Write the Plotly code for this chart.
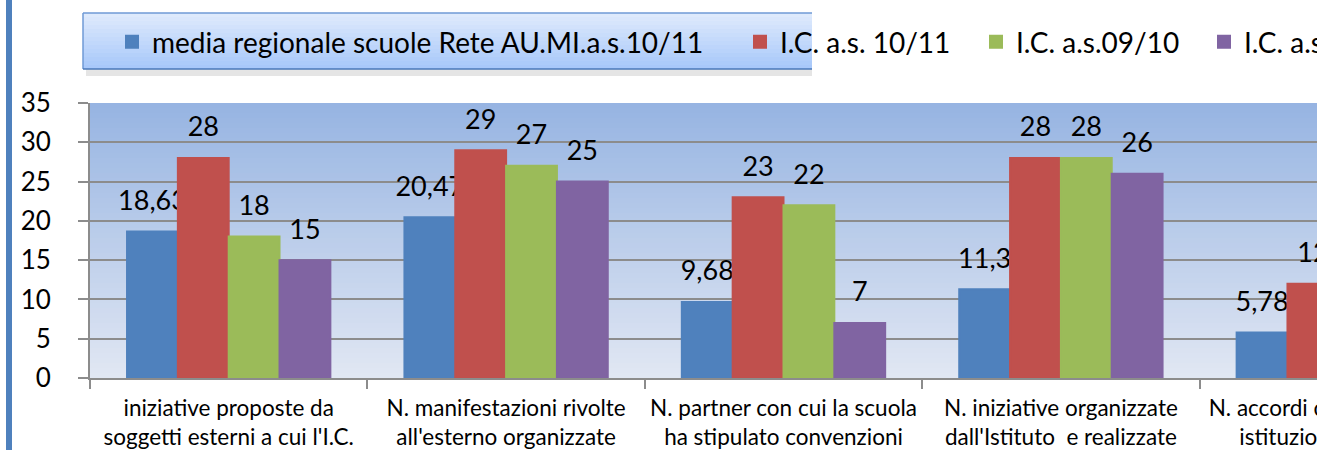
import plotly.graph_objects as go

# ---------------- data ----------------
categories = [
    "iniziative proposte da<br>soggetti esterni a cui l'I.C.",
    "N. manifestazioni rivolte<br>all'esterno organizzate",
    "N. partner con cui la scuola<br>ha stipulato convenzioni",
    "N. iniziative organizzate<br>dall'Istituto  e realizzate",
    "N. accordi con altre scuole<br>istituzioni pubbliche",
]
series_names = [
    "media regionale scuole Rete AU.MI.a.s.10/11",
    "I.C. a.s. 10/11",
    "I.C. a.s.09/10",
    "I.C. a.s.08/09",
]
media_regionale = [18.63, 20.47, 9.68, 11.3, 5.78]
ic_10_11 = [28, 29, 23, 28, 12]
ic_09_10 = [18, 27, 22, 28, None]
ic_08_09 = [15, 25, 7, 26, None]
series_values = [media_regionale, ic_10_11, ic_09_10, ic_08_09]
colors = ["#4F81BD", "#C0504D", "#9BBB59", "#8064A2"]

FONT = "Lato"
# plot area sits at window x 90..1477 (cut by the window at 1317), y 103..378
ML, MT = 90, 103
PLOT_W = 1387
PLOT_H = 275
MR = 13
MB = 100
W = ML + PLOT_W + MR
H = MT + PLOT_H + MB


def fmt(v):
    if v is None:
        return ""
    if float(v).is_integer():
        return str(int(v))
    return ("%g" % v).replace(".", ",")


legend_ids = ["legend", "legend2", "legend3", "legend4"]
fig = go.Figure()
for name, vals, col, lid in zip(series_names, series_values, colors, legend_ids):
    fig.add_trace(go.Bar(
        x=categories, y=vals, name=name, legend=lid,
        marker=dict(color=col, line=dict(color=col, width=2)),
        text=[fmt(v) for v in vals],
        texttemplate="<span style='font-size:27px'>%{text}</span><br> ",
        textposition="outside",
        textfont=dict(family=FONT, size=12, color="black"),
        constraintext="none",
        cliponaxis=False,
        hoverinfo="skip",
    ))

shapes = []
# plot-area vertical gradient (blue top -> light bottom)
top_c = (150, 180, 226)
bot_c = (225, 231, 243)
N = 55
for i in range(N):
    t = (i + 0.5) / N
    c = tuple(round(top_c[k] + (bot_c[k] - top_c[k]) * t) for k in range(3))
    shapes.append(dict(type="rect", xref="paper", yref="paper", layer="below",
                       x0=0, x1=1, y0=1 - (i + 1) / N, y1=1 - i / N,
                       fillcolor="rgb(%d,%d,%d)" % c, line=dict(width=0)))

# legend box (gradient), shadow and borders (pixel offsets from plot's top-left)
lt, lb = (224, 235, 252), (166, 199, 250)
shapes.append(dict(type="rect", xref="paper", yref="paper", xsizemode="pixel", ysizemode="pixel",
                   xanchor=0, yanchor=1, x0=-4, x1=722, y0=27, y1=34, layer="below",
                   fillcolor="rgba(0,0,0,0.10)", line=dict(width=0)))
NL = 14
for i in range(NL):
    t = (i + 0.5) / NL
    c = tuple(round(lt[k] + (lb[k] - lt[k]) * t) for k in range(3))
    shapes.append(dict(type="rect", xref="paper", yref="paper", xsizemode="pixel", ysizemode="pixel",
                       xanchor=0, yanchor=1, x0=-7, x1=722,
                       y0=90 - (i + 1) * 56 / NL, y1=90 - i * 56 / NL, layer="below",
                       fillcolor="rgb(%d,%d,%d)" % c, line=dict(width=0)))
for (x0, x1, y0, y1, lc) in [(-7, 722, 90, 90, "#6f9ad6"), (-7, -7, 34, 90, "#6f9ad6"),
                             (-7, 722, 34, 34, "#4a78b8")]:
    shapes.append(dict(type="line", xref="paper", yref="paper", xsizemode="pixel", ysizemode="pixel",
                       xanchor=0, yanchor=1, x0=x0, x1=x1, y0=y0, y1=y1,
                       line=dict(color=lc, width=1.5)))
# page border bar on the left
shapes.append(dict(type="rect", xref="paper", yref="paper", xsizemode="pixel", ysizemode="pixel",
                   xanchor=0, yanchor=0, x0=-84, x1=-78, y0=-120, y1=400,
                   fillcolor="#4F81BD", line=dict(width=0)))

# legend entries: text starts at window x 152, 780, 1016, 1244 (text sits 40px after legend left)
legend_text_x = [152, 780, 1016, 1244]
legend_y = 1 + (103 - 42) / PLOT_H
legend_layouts = {}
for lid, tx in zip(legend_ids, legend_text_x):
    legend_layouts[lid] = dict(
        orientation="h", x=(tx - 40 - 90) / PLOT_W, xanchor="left",
        y=legend_y, yanchor="middle",
        font=dict(family=FONT, size=28, color="black"),
        bgcolor="rgba(0,0,0,0)", borderwidth=0, itemclick=False)

fig.update_layout(
    width=W, height=H,
    margin=dict(l=ML, r=MR, t=MT, b=MB, pad=0, autoexpand=False),
    paper_bgcolor="white",
    plot_bgcolor="rgba(0,0,0,0)",
    barmode="group", bargap=0.267, bargroupgap=0,
    font=dict(family=FONT, color="black"),
    showlegend=True,
    shapes=shapes,
    xaxis=dict(type="category", tickson="boundaries", ticks="outside", ticklen=9,
               tickwidth=2, tickcolor="#8c8c8c", showline=True, linecolor="#8c8c8c",
               linewidth=2, showgrid=False, tickfont=dict(family=FONT, size=22.5),
               ticklabelstandoff=9, range=[-0.5, 4.5], fixedrange=True,
               automargin=False),
    yaxis=dict(range=[0, 35], dtick=5, showgrid=True, gridcolor="#8c8c8c", gridwidth=2,
               showline=True, linecolor="#8c8c8c", linewidth=2, ticks="outside",
               ticklen=10, tickwidth=2, tickcolor="#8c8c8c",
               tickfont=dict(family=FONT, size=26), ticklabelstandoff=22,
               zeroline=False, fixedrange=True, automargin=False),
    **legend_layouts,
)

fig.write_html(
    "out.html",
    post_script="document.body.style.margin='0';document.body.style.overflow='hidden';"
                "document.documentElement.style.overflow='hidden';",
)
